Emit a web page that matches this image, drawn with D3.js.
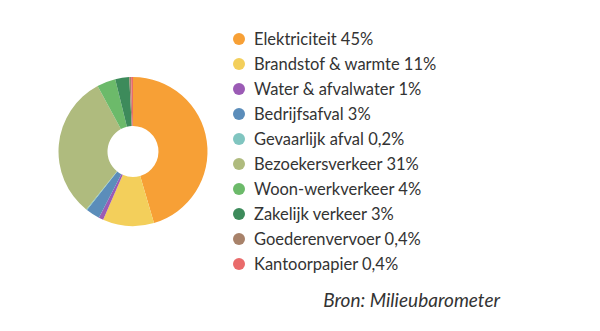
<!DOCTYPE html>
<html>
<head>
<meta charset="utf-8">
<script src="https://cdn.jsdelivr.net/npm/d3@7/dist/d3.min.js"></script>
<style>
  html, body { margin: 0; padding: 0; background: #fff; }
  svg { display: block; }
  text { font-family: Lato, "Noto Sans", sans-serif; fill: #333; }
</style>
</head>
<body>
<svg id="chart" width="600" height="331"></svg>
<script>
// CO2 footprint breakdown by source
const categories = [
  "Elektriciteit", "Brandstof & warmte", "Water & afvalwater", "Bedrijfsafval",
  "Gevaarlijk afval", "Bezoekersverkeer", "Woon-werkverkeer", "Zakelijk verkeer",
  "Goederenvervoer", "Kantoorpapier"
];
const values = [45, 11, 1, 3, 0.2, 31, 4, 3, 0.4, 0.4];
const valueLabels = ["45%", "11%", "1%", "3%", "0,2%", "31%", "4%", "3%", "0,4%", "0,4%"];
const colors = [
  "#f7a036", "#f3cf5b", "#9b5bb5", "#5b8dba", "#80c5c0",
  "#afbb7e", "#6cba6a", "#3d8b5b", "#a8826a", "#e96b6b"
];
const source = "Bron: Milieubarometer";

const svg = d3.select("#chart");

const cx = 133, cy = 151.5, outerR = 74.5, innerR = 25.5;

const pie = d3.pie().sort(null).value(d => d);
const arc = d3.arc().innerRadius(innerR).outerRadius(outerR);
const color = d3.scaleOrdinal().domain(categories).range(colors);

svg.append("g")
  .attr("transform", `translate(${cx},${cy})`)
  .selectAll("path")
  .data(pie(values))
  .join("path")
  .attr("d", arc)
  .attr("fill", (d, i) => color(categories[i]));

// Legend
const rowY = d3.scalePoint().domain(categories).range([39, 264]);
const legend = svg.append("g")
  .selectAll("g")
  .data(categories)
  .join("g")
  .attr("transform", d => `translate(239,${rowY(d)})`);

legend.append("circle")
  .attr("r", 6)
  .attr("fill", d => color(d));

legend.append("text")
  .attr("x", 15)
  .attr("dy", "0.35em")
  .style("font-size", "16.5px")
  .text((d, i) => `${d} ${valueLabels[i]}`);

svg.append("text")
  .attr("x", 500)
  .attr("y", 307)
  .attr("text-anchor", "end")
  .style("font-size", "19px")
  .style("font-style", "italic")
  .text(source);
</script>
</body>
</html>
